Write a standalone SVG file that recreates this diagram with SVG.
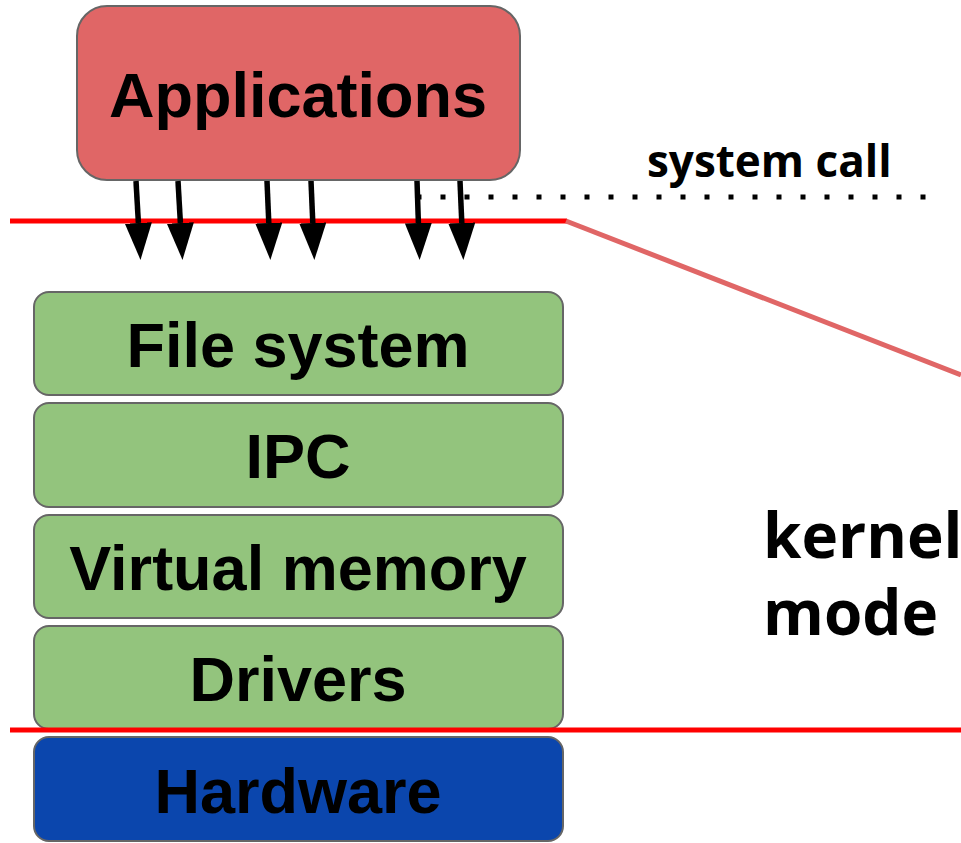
<svg xmlns="http://www.w3.org/2000/svg" width="961" height="843" viewBox="0 0 961 843">
<defs>
<style>
.box{stroke:#666666;stroke-width:2}
.green{fill:#93c47d}
.lbl{font-family:"Liberation Sans",Arial,sans-serif;font-weight:bold;font-size:63px;fill:#000;text-anchor:middle}
.os{font-family:"Open Sans",sans-serif;font-weight:bold;fill:#000}
.arr{stroke:#000;stroke-width:5.5;fill:none}
</style>
<marker id="ah" viewBox="0 0 37 27" refX="0" refY="13.5" markerWidth="37" markerHeight="27" markerUnits="userSpaceOnUse" orient="auto">
<path d="M0,0 L37,13.5 L0,27 Z" fill="#000"/>
</marker>
</defs>
<rect width="961" height="843" fill="#fff"/>
<g id="applications">
<rect class="box" x="77" y="6" width="443" height="174" rx="30" fill="#e06666"/>
<text class="lbl" x="298" y="117" font-size="64">Applications</text>
</g>
<g id="file-system">
<rect class="box green" x="34" y="292" width="529" height="103" rx="15"/>
<text class="lbl" x="298" y="367">File system</text>
</g>
<g id="ipc">
<rect class="box green" x="34" y="403" width="529" height="104" rx="15"/>
<text class="lbl" x="298" y="478">IPC</text>
</g>
<g id="virtual-memory">
<rect class="box green" x="34" y="515" width="529" height="103" rx="15"/>
<text class="lbl" x="298" y="590">Virtual memory</text>
</g>
<g id="drivers">
<rect class="box green" x="34" y="626" width="529" height="103" rx="15"/>
<text class="lbl" x="298" y="701">Drivers</text>
</g>
<g id="hardware">
<rect class="box" x="34" y="737" width="529" height="104" rx="15" fill="#0b46ad"/>
<text class="lbl" x="298" y="813">Hardware</text>
</g>
<g id="boundaries">
<line x1="10" y1="221" x2="567" y2="221" stroke="#ff0000" stroke-width="5"/>
<line x1="566" y1="221" x2="961" y2="375" stroke="#e06666" stroke-width="5"/>
<line x1="10" y1="730" x2="961" y2="730" stroke="#ff0000" stroke-width="5"/>
<line x1="416.5" y1="197" x2="926" y2="197" stroke="#000" stroke-width="5" stroke-dasharray="5 19"/>
</g>
<g id="connectors">
<line class="arr" x1="136" y1="181" x2="138.4" y2="223" marker-end="url(#ah)"/>
<line class="arr" x1="178" y1="181" x2="180.4" y2="223" marker-end="url(#ah)"/>
<line class="arr" x1="267" y1="181" x2="268.8" y2="223" marker-end="url(#ah)"/>
<line class="arr" x1="311" y1="181" x2="312.8" y2="223" marker-end="url(#ah)"/>
<line class="arr" x1="417" y1="181" x2="418.4" y2="223" marker-end="url(#ah)"/>
<line class="arr" x1="460" y1="181" x2="461.8" y2="223" marker-end="url(#ah)"/>
</g>
<text class="os" x="647" y="177" font-size="44">system call</text>
<text class="os" x="763" y="558" font-size="62">kernel</text>
<text class="os" x="763" y="635" font-size="62">mode</text>
</svg>
